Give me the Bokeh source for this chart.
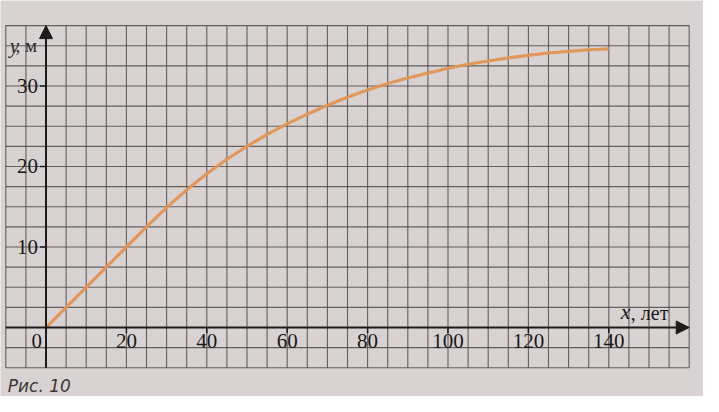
from bokeh.plotting import figure
from bokeh.models import Arrow, NormalHead, ColumnDataSource
from bokeh.core.properties import value
from bokeh.embed import file_html
from bokeh.resources import INLINE

# ---- data ----
age_years = [0, 5, 10, 15, 20, 25, 30, 35, 40, 45, 50, 55, 60, 65, 70, 75, 80,
             85, 90, 95, 100, 105, 110, 115, 120, 125, 130, 135, 140]
height_m = [0, 2.5, 5, 7.5, 10, 12.5, 14.9, 17.1, 19.1, 20.9, 22.5, 24.0, 25.3,
            26.5, 27.6, 28.6, 29.5, 30.3, 31.0, 31.6, 32.2, 32.7, 33.1, 33.5,
            33.8, 34.1, 34.3, 34.5, 34.6]
x_ticks = [20, 40, 60, 80, 100, 120, 140]
y_ticks = [10, 20, 30]
x_tick_labels = [str(v) for v in x_ticks]
y_tick_labels = [str(v) for v in y_ticks]

# grid of the squared paper
grid_x_min, grid_x_max, grid_x_step = -10, 160, 5
grid_y_min, grid_y_max, grid_y_step = -5, 37.5, 2.5

BG = "#d8d3d2"
GRID = "#4f4a4a"
AXIS = "#1e1b1b"
CURVE = "#e29553"
SERIF = "Liberation Serif"

p = figure(width=703, height=396, output_backend="svg", toolbar_location=None,
           x_range=(-11.32, 163.56), y_range=(-8.57, 40.62),
           x_axis_type=None, y_axis_type=None, min_border=0)
p.background_fill_color = BG
p.border_fill_color = BG
p.outline_line_color = None
p.xgrid.visible = False
p.ygrid.visible = False

# squared paper
vx = [grid_x_min + i * grid_x_step for i in range(int((grid_x_max - grid_x_min) / grid_x_step) + 1)]
hy = [grid_y_min + i * grid_y_step for i in range(int((grid_y_max - grid_y_min) / grid_y_step) + 1)]
p.segment(x0=vx, y0=[grid_y_min] * len(vx), x1=vx, y1=[grid_y_max] * len(vx),
          line_color=GRID, line_width=1.1, line_alpha=0.85)
p.segment(x0=[grid_x_min] * len(hy), y0=hy, x1=[grid_x_max] * len(hy), y1=hy,
          line_color=GRID, line_width=1.1, line_alpha=0.85)

# axes with arrows
p.add_layout(Arrow(x_start=grid_x_min, y_start=0, x_end=grid_x_max, y_end=0,
                   line_color=AXIS, line_width=2,
                   end=NormalHead(size=13, fill_color=AXIS, line_color=AXIS)))
p.add_layout(Arrow(x_start=0, y_start=grid_y_min, x_end=0, y_end=grid_y_max,
                   line_color=AXIS, line_width=2,
                   end=NormalHead(size=13, fill_color=AXIS, line_color=AXIS)))

# tick marks
p.segment(x0=x_ticks, y0=[0] * len(x_ticks), x1=x_ticks, y1=[-0.7] * len(x_ticks),
          line_color=AXIS, line_width=1.5)
p.segment(x0=[-1.5] * len(y_ticks), y0=y_ticks, x1=[0] * len(y_ticks), y1=y_ticks,
          line_color=AXIS, line_width=1.5)

# tick labels
p.text(x=x_ticks, y=[0] * len(x_ticks), text=x_tick_labels, text_align="center",
       text_baseline="top", y_offset=6, text_font=value(SERIF),
       text_font_size="21px", text_color="#1a1717")
p.text(x=[0] * len(y_ticks), y=y_ticks, text=y_tick_labels, text_align="right",
       text_baseline="middle", x_offset=-8, text_font=value(SERIF),
       text_font_size="21px", text_color="#1a1717")
p.text(x=[0], y=[0], text=["0"], text_align="right", text_baseline="top",
       x_offset=-4, y_offset=6, text_font=value(SERIF), text_font_size="21px",
       text_color="#1a1717")

# axis titles
p.text(x=[0], y=[35], text=["y"], text_align="right", text_baseline="middle",
       x_offset=-27, text_font=value(SERIF), text_font_style="italic",
       text_font_size="21px", text_color="#2a2626")
p.text(x=[0], y=[35], text=[", м"], text_align="right", text_baseline="middle",
       x_offset=-9, text_font=value(SERIF), text_font_size="19px",
       text_color="#2a2626")
p.text(x=[140], y=[0], text=["x"], text_align="left", text_baseline="bottom",
       x_offset=12, y_offset=-4, text_font=value(SERIF), text_font_style="italic",
       text_font_size="22px", text_color="#1a1717")
p.text(x=[140], y=[0], text=[", лет"], text_align="left", text_baseline="bottom",
       x_offset=22, y_offset=-4, text_font=value(SERIF),
       text_font_size="20px", text_color="#1a1717")

# caption at the bottom
p.text(x=[grid_x_min], y=[grid_y_min], text=["Рис. 10"], text_align="left",
       text_baseline="bottom", x_offset=2, y_offset=28, text_font=value("DejaVu Sans"),
       text_font_style="italic", text_font_size="17px", text_color="#3a3636")

# the curve
src = ColumnDataSource(dict(x=age_years, y=height_m))
p.line("x", "y", source=src, line_color=CURVE, line_width=3.2, line_alpha=0.95,
       line_join="round")

open("out.html", "w").write(file_html(p, INLINE))
